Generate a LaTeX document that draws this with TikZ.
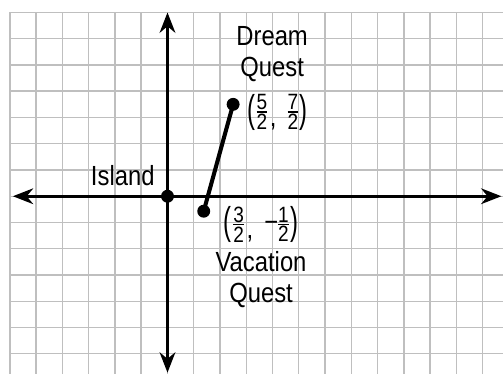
\documentclass[tikz,border=0pt]{standalone}
\usepackage{fontspec}
\setmainfont[FakeStretch=0.86]{Liberation Sans}
\usetikzlibrary{arrows.meta,positioning}
\tikzset{
    gridline/.style = {draw=black!25, line width=0.8pt, step=0.5cm},
    axis/.style     = {{Stealth[length=11pt,width=8.5pt,inset=3.5pt]}-{Stealth[length=11pt,width=8.5pt,inset=3.5pt]}, line width=1.6pt},
    segment/.style  = {line width=2.2pt},
    dot/.style      = {circle, fill, inner sep=0pt, minimum size=7pt},
    lbl/.style      = {inner sep=0pt, font=\fontsize{15}{16.8}\selectfont, align=center}
}
% stacked half, tight as in the print
\newcommand{\halfpart}[2]{\ensuremath{\vcenter{\offinterlineskip
  \halign{\hfil##\hfil\cr
    \fontsize{12}{12}\selectfont #1\cr
    \noalign{\kern0.8pt\hrule height0.7pt\kern0.8pt}
    \fontsize{12}{12}\selectfont #2\cr}}}}
\newcommand{\lpar}{\raisebox{-1.9pt}{\scalebox{1}[1.4]{(}}\hspace{0.8pt}}
\newcommand{\rpar}{\hspace{0.8pt}\raisebox{-1.9pt}{\scalebox{1}[1.4]{)}}}
\newcommand{\sep}{\hspace{1.5pt}\raisebox{-4pt}{,}\hspace{6pt}}

\begin{document}
\begin{tikzpicture}[x=0.5cm, y=0.5cm]

    \useasboundingbox (-6.38,-6.77) rectangle (12.78,7.475);

    % ---------- grid paper ----------
    \draw[gridline] (-6,-6.77) grid (12.78,7);

    % ---------- axes ----------
    \coordinate (xl) at (-5.89,0);
    \coordinate (xr) at (12.72,0);
    \coordinate (yb) at (0,-6.72);
    \coordinate (yt) at (0,7.0);
    \draw[axis] (xl) -- (xr);
    \draw[axis] (yb) -- (yt);

    % ---------- points and the path between them ----------
    \node[dot] (island)   at (0,0) {};
    \node[dot] (dream)    at (2.5,3.5) {};
    \node[dot] (vacation) at (1.38,-0.57) {};
    \draw[segment] (vacation.center) -- (dream.center);

    % ---------- labels ----------
    \node[lbl, above left=0.185cm and 0.24cm of island.center] (islandname) {Island};

    \node[lbl, right=0.26cm of dream.center, yshift=-0.15cm] (dreamxy)
      {\lpar\halfpart{5}{2}\sep\halfpart{7}{2}\rpar};
    \node[lbl, above=0.22cm of dreamxy, xshift=-0.1cm] (dreamname) {Dream\\Quest};

    \node[lbl, right=0.377cm of vacation.center, yshift=-0.254cm] (vacationxy)
      {\lpar\halfpart{3}{2}\sep−\halfpart{1}{2}\rpar};
    \node[lbl, below=0.15cm of vacationxy] (vacationname) {Vacation\\Quest};

\end{tikzpicture}
\end{document}
